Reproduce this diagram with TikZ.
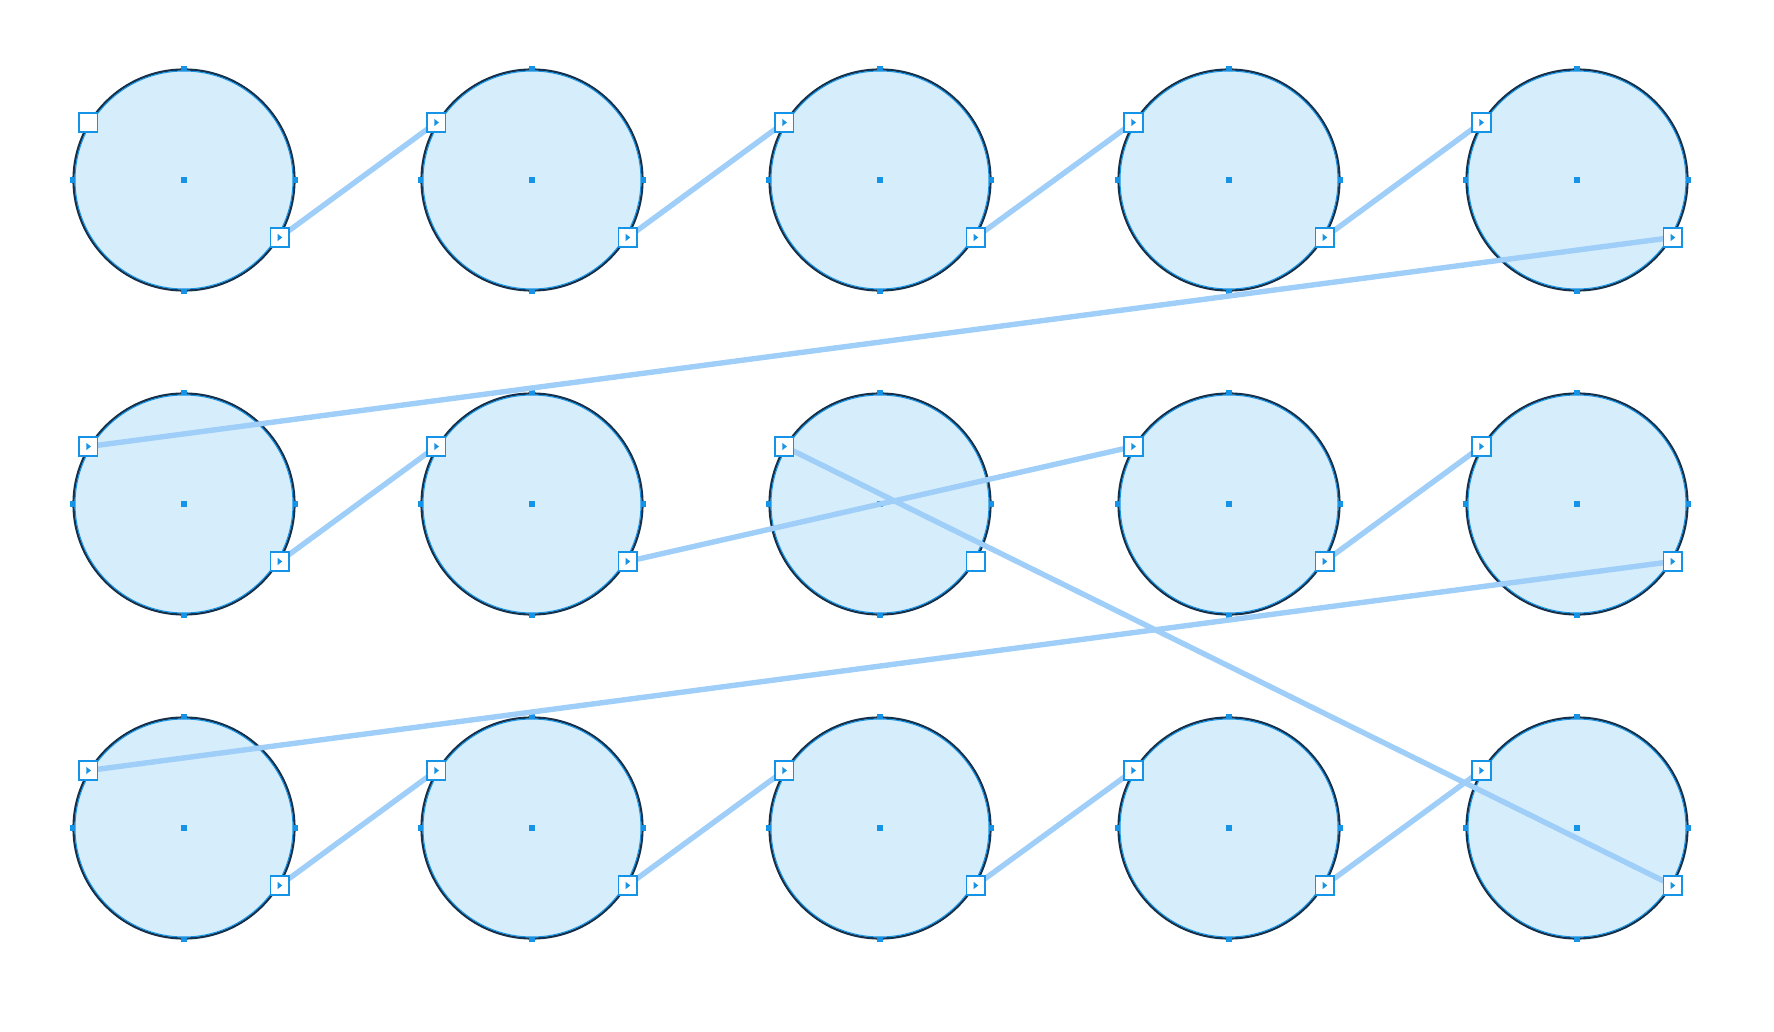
\documentclass[tikz,border=0pt]{standalone}
\usepackage{tikz}
\usepackage{xcolor}

\definecolor{discfill}{HTML}{D6EEFB}
\definecolor{discedge}{HTML}{17304A}
\definecolor{handleblue}{HTML}{1593E6}
\definecolor{wireblue}{HTML}{9FCEF9}

\tikzset{
disc/.style={circle, draw=discedge, fill=discfill, line width=1.1pt,
minimum size=110.5pt, inner sep=0pt},
wire/.style={wireblue, line width=2.7pt},
emptyport/.style={draw=handleblue, fill=white, line width=0.75pt,
minimum size=9.4pt, inner sep=0pt},
port/.style={emptyport, path picture={
\fill[handleblue] (path picture bounding box.center) ++(-1pt,-1.8pt)
-- ++(0,3.6pt) -- ++(2.3pt,-1.8pt) -- cycle;}},
handle/.style={fill=handleblue, minimum size=2.8pt, inner sep=0pt}}

\begin{document}
\begin{tikzpicture}[x=0.5pt, y=-0.5pt]

				\useasboundingbox (0,0) rectangle (1774,1032);

				% discs, handles and port positions
				\foreach \r/\y in {1/180,2/504,3/828}
				\foreach \c/\x in {1/184,2/532,3/880,4/1229,5/1577} {
					\node[disc] (c\r\c) at (\x,\y) {};
					\draw[handleblue, line width=0.5pt] (c\r\c.center) circle (54.5pt);
					\foreach \a in {north,south,east,west,center}
						\node[handle] at (c\r\c.\a) {};
					\coordinate (c\r\c-in) at (c\r\c.149);
					\coordinate (c\r\c-out) at (c\r\c.-31);
				}

				% wires
				\foreach \a/\b in {11/12,12/13,13/14,14/15,15/21,21/22,22/24,
					24/25,25/31,31/32,32/33,33/34,34/35}
					\draw[wire] (c\a-out) -- (c\b-in);
				\draw[wire] (c23-in) -- (c35-out);

				% ports on top
				\foreach \n/\si/\so in {11/emptyport/port,12/port/port,13/port/port,
					14/port/port,15/port/port,21/port/port,22/port/port,
					23/port/emptyport,24/port/port,25/port/port,31/port/port,
					32/port/port,33/port/port,34/port/port,35/port/port} {
					\node[\si] (p\n-in) at (c\n-in) {};
					\node[\so] (p\n-out) at (c\n-out) {};
				}
			\end{tikzpicture}
\end{document}
